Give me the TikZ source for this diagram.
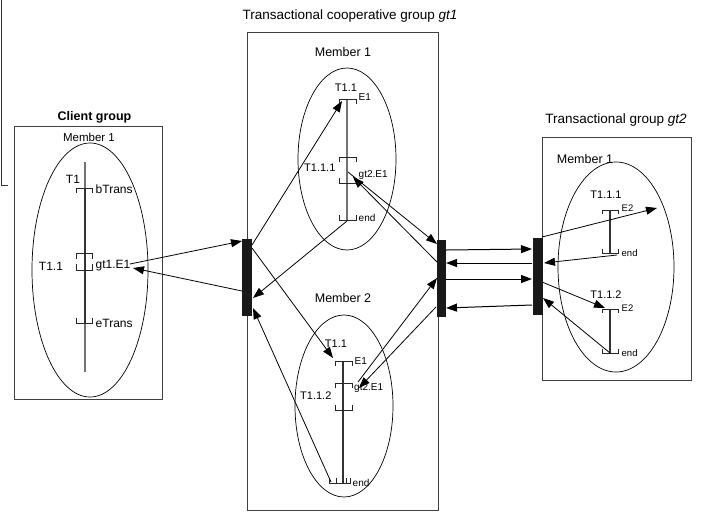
\documentclass[tikz,border=0pt]{standalone}
\usepackage{fontspec}
\setmainfont{Liberation Sans}
\usetikzlibrary{arrows.meta,shapes.geometric}
\begin{document}
\begin{tikzpicture}[x=1pt,y=-1pt,
  box/.style={draw=black!75,line width=0.9pt},
  memb/.style={draw=black,line width=0.7pt,ellipse,inner sep=0pt},
  tl/.style={draw=black!55,line width=1.4pt},
  tldark/.style={draw=black!80,line width=1.2pt},
  brk/.style={draw=black!85,line width=1pt},
  bar/.style={fill=black!90,draw=none,inner sep=0pt},
  conn/.style={-{Triangle[length=11pt,width=8pt]},line width=0.8pt,draw=black},
  gconn/.style={-{Triangle[length=11pt,width=8pt]},line width=1pt,draw=black!60,color=black},
  lab/.style={inner sep=0pt,font=\fontsize{12}{12}\selectfont},
  slab/.style={inner sep=0pt,font=\fontsize{10}{10}\selectfont},
  ttl/.style={inner sep=0pt,font=\fontsize{13.5}{14}\selectfont}]
\useasboundingbox (0,0) rectangle (702,515);
% edge line
\draw[line width=0.8pt,draw=black!80] (1,0) -- (1,185) -- (8,185);

% ---------- Client group ----------
\node[lab,font=\fontsize{12.5}{13}\selectfont\bfseries] (cgt) at (94.5,117) {Client group};
\draw[box] (14,126) rectangle (162,399);
\node[lab,font=\fontsize{11.5}{12}\selectfont] (cm1) at (89,137) {Member 1};
\node[memb,minimum width=116pt,minimum height=254pt] (ce) at (90,270) {};
\draw[tl] (85,162) -- (85,372);
\draw[tldark] (85,188) -- (85,323);
\draw[brk] (76,193) -- (76,188) -- (92,188) -- (92,193);
\draw[brk] (76,259) -- (76,253) -- (92,253) -- (92,259);
\draw[brk] (76,264) -- (76,270) -- (92,270) -- (92,264);
\draw[brk] (76,318) -- (76,323) -- (92,323) -- (92,318);
\node[lab] (ct1) at (73,179) {T1};
\node[lab,anchor=west] (cbt) at (95.5,189) {bTrans};
\node[lab] (ct11) at (51,266) {T1.1};
\node[lab,anchor=west] (cgE) at (95.5,266) {gt1.E1};
\node[lab,anchor=west] (cet) at (95.5,323) {eTrans};

% ---------- Cooperative group gt1 ----------
\node[ttl] (mtitle) at (350,16) {Transactional cooperative group \textit{gt1}};
\draw[box] (247,32) rectangle (438,510);
\node[lab,font=\fontsize{12.5}{13}\selectfont] (mm1) at (343,52) {Member 1};
\node[memb,minimum width=98pt,minimum height=182pt] (me1) at (347,159) {};
\draw[tl] (347,99) -- (347,220);
\draw[brk] (339,104) -- (339,99) -- (356,99) -- (356,104);
\draw[brk] (339,162) -- (339,157) -- (356,157) -- (356,162);
\draw[brk] (339,178) -- (339,183) -- (356,183) -- (356,178);
\draw[brk] (339,215) -- (339,220) -- (356,220) -- (356,215);
\node[slab,font=\fontsize{11}{11}\selectfont] (m1t) at (346,88) {T1.1};
\node[slab,anchor=west] (m1e1) at (358.5,97) {E1};
\node[slab,font=\fontsize{11}{11}\selectfont,anchor=west] (m1t111) at (304,168) {T1.1.1};
\node[slab,anchor=west] (m1g) at (358.5,175) {gt2.E1};
\node[slab,anchor=west] (m1end) at (358.5,218) {end};

\node[lab,font=\fontsize{12.5}{13}\selectfont] (mm2) at (343,298) {Member 2};
\node[memb,minimum width=98pt,minimum height=182pt] (me2) at (344,406) {};
\draw[tldark,line width=1.1pt] (343,361) -- (343,483);
\draw[brk] (335,366) -- (335,361) -- (352,361) -- (352,366);
\draw[brk] (335,388) -- (335,383) -- (352,383) -- (352,388);
\draw[brk] (335,405) -- (335,410) -- (352,410) -- (352,405);
\draw[brk] (329,478) -- (329,483) -- (350,483) -- (350,478);
\draw[brk] (336,478) -- (336,483);
\draw[brk] (346,478) -- (346,483);
\node[slab,font=\fontsize{11}{11}\selectfont] (m2t) at (336,344) {T1.1};
\node[slab,anchor=west] (m2e1) at (354.5,361) {E1};
\node[slab,font=\fontsize{11}{11}\selectfont,anchor=west] (m2t112) at (300,396) {T1.1.2};
\node[slab,anchor=west] (m2g) at (354,388) {gt2.E1};
\node[slab,anchor=west] (m2end) at (352.5,483) {end};

% ---------- Transactional group gt2 ----------
\node[ttl] (gtitle) at (616,120) {Transactional group \textit{gt2}};
\draw[box] (542,137) rectangle (691,380);
\node[lab,font=\fontsize{12.5}{13}\selectfont] (gm1) at (585,159) {Member 1};
\node[memb,minimum width=116pt,minimum height=210pt] (ge) at (616,267) {};
\draw[tldark,line width=1.1pt] (610,210) -- (610,253);
\draw[brk] (602,214) -- (602,210) -- (618,210) -- (618,214);
\draw[brk] (602,249) -- (602,253) -- (618,253) -- (618,249);
\draw[tldark,line width=1.1pt] (610,309) -- (610,353);
\draw[brk] (602,313) -- (602,309) -- (618,309) -- (618,313);
\draw[brk] (602,349) -- (602,353) -- (618,353) -- (618,349);
\node[slab,font=\fontsize{11}{11}\selectfont] (gt111) at (606,195) {T1.1.1};
\node[slab,font=\fontsize{9.5}{10}\selectfont,anchor=west] (ge2a) at (621.5,208) {E2};
\node[slab,font=\fontsize{9.5}{10}\selectfont,anchor=west] (genda) at (621.5,253) {end};
\node[slab,font=\fontsize{11}{11}\selectfont] (gt112) at (606,295) {T1.1.2};
\node[slab,font=\fontsize{9.5}{10}\selectfont,anchor=west] (ge2b) at (621.5,308) {E2};
\node[slab,font=\fontsize{9.5}{10}\selectfont,anchor=west] (gendb) at (621.5,353) {end};

% ---------- bars ----------
\node[bar,minimum width=10pt,minimum height=77pt] (lbar) at (247,277.5) {};
\node[bar,minimum width=9pt,minimum height=77pt] (mbar) at (441.5,278.5) {};
\node[bar,minimum width=10pt,minimum height=77pt] (gbar) at (537.5,276.5) {};

% ---------- connector end points ----------
\coordinate (pA1s) at (130,264); \coordinate (pA1e) at (242,241);
\coordinate (pA2s) at (242,291); \coordinate (pA2e) at (133,268);
\coordinate (pB1s) at (252,245); \coordinate (pB1e) at (342,101);
\coordinate (pB2s) at (347,221); \coordinate (pB2e) at (253,298);
\coordinate (pB3s) at (252,248); \coordinate (pB3e) at (333,358);
\coordinate (pB4s) at (331,482); \coordinate (pB4e) at (253,308);
\coordinate (pB5s) at (348,172); \coordinate (pB5e) at (437,244);
\coordinate (pB6s) at (437,262); \coordinate (pB6e) at (353,177);
\coordinate (pB7s) at (358,382); \coordinate (pB7e) at (437,278);
\coordinate (pB8s) at (436,307); \coordinate (pB8e) at (359,388);
\coordinate (pC1s) at (446,250); \coordinate (pC1e) at (532,249);
\coordinate (pC2s) at (532,263); \coordinate (pC2e) at (446,263);
\coordinate (pC3s) at (446,279); \coordinate (pC3e) at (532,279);
\coordinate (pC4s) at (532,305); \coordinate (pC4e) at (446,308);
\coordinate (pD1s) at (542,237); \coordinate (pD1e) at (657,208);
\coordinate (pD2s) at (617,255); \coordinate (pD2e) at (544,263);
\coordinate (pD3s) at (542,282); \coordinate (pD3e) at (605,308);
\coordinate (pD4s) at (610,353); \coordinate (pD4e) at (543,298);

\foreach \c in {A1,A2,B1,B2,B3,B4,B5,B6,B7,B8,D1,D2,D3,D4}
  \draw[conn] (p\c s) -- (p\c e);
\foreach \c in {C1,C2,C3,C4}
  \draw[gconn] (p\c s) -- (p\c e);
\end{tikzpicture}
\end{document}
